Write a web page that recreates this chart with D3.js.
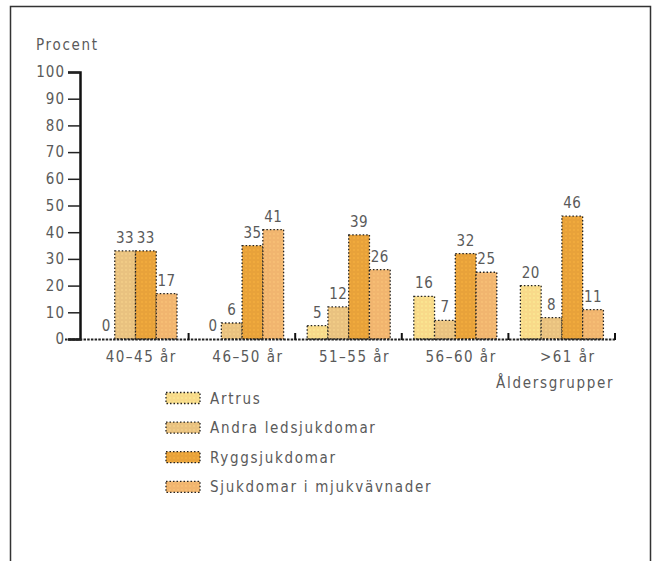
<!DOCTYPE html>
<html><head><meta charset="utf-8">
<script src="https://cdn.jsdelivr.net/npm/d3@7"></script>
<style>
body{margin:0;background:#fff;}
text{font-family:"DejaVu Sans Condensed","DejaVu Sans",sans-serif;font-stretch:condensed;fill:#5a5a5a;}
</style></head><body>
<svg id="c" width="653" height="561"></svg>
<script>
const groups = ["40–45 år","46–50 år","51–55 år","56–60 år",">61 år"];
const seriesNames = ["Artrus","Andra ledsjukdomar","Ryggsjukdomar","Sjukdomar i mjukvävnader"];
const artrus = [0,0,5,16,20];
const andra = [33,6,12,7,8];
const rygg = [33,35,39,32,46];
const sjuk = [17,41,26,25,11];
const yTicks = [0,10,20,30,40,50,60,70,80,90,100];
const colors = ["#f8da8a","#e9c280","#e8a23a","#f1b56f"];

const seriesValues = [artrus, andra, rygg, sjuk];
const svg = d3.select("#c");
const FF = "'DejaVu Sans Condensed','DejaVu Sans',sans-serif";

// frame (no bottom edge)
svg.append("path").attr("d","M10.5,561 V6.5 H650.5 V561")
  .attr("fill","none").attr("stroke","#333").attr("stroke-width",1.5);

const y = d3.scaleLinear().domain([0,100]).range([339,72]);
const x0 = d3.scaleBand().domain(groups).range([82,615]).padding(0);
const x1 = d3.scaleBand().domain(seriesNames).range([12,95]).padding(0);

// patterns
const defs = svg.append("defs");
colors.forEach((c,i)=>{
  const p = defs.append("pattern").attr("id","p"+i).attr("width",4).attr("height",4)
    .attr("patternUnits","userSpaceOnUse");
  p.append("rect").attr("width",4).attr("height",4).attr("fill",c);
  p.append("circle").attr("cx",2).attr("cy",2).attr("r",0.7)
    .attr("fill",d3.color(c).brighter(0.35));
});

// y axis
const yAxis = d3.axisLeft(y).tickValues(yTicks).tickSize(12).tickPadding(3);
const ya = svg.append("g").attr("transform","translate(80,0)").call(yAxis);
ya.select(".domain").attr("stroke","#111").attr("stroke-width",2.5);
ya.selectAll(".tick line").attr("stroke","#222").attr("stroke-width",1.5);
ya.selectAll(".tick text").attr("font-size",15).attr("fill","#666")
  .style("letter-spacing","1px").style("font-stretch","condensed")
  .attr("font-family",FF);

svg.append("text").attr("x",36).attr("y",50).attr("font-size",15)
  .style("letter-spacing","1.7px").text("Procent");

// bars
const data = [];
groups.forEach((g,gi)=>seriesNames.forEach((s,si)=>data.push({g,s,si,v:seriesValues[si][gi]})));
const bars = svg.append("g");
bars.selectAll("rect").data(data).join("rect")
  .attr("x",d=>x0(d.g)+x1(d.s))
  .attr("y",d=>y(d.v))
  .attr("width",x1.bandwidth())
  .attr("height",d=>y(0)-y(d.v))
  .attr("fill",d=>"url(#p"+d.si+")")
  .attr("stroke","#222").attr("stroke-width",1.3)
  .attr("stroke-dasharray","1.5 2");
bars.selectAll("text").data(data).join("text")
  .attr("x",d=>x0(d.g)+x1(d.s)+x1.bandwidth()/2+ (d.v===0?2:0))
  .attr("y",d=>y(d.v)-8)
  .attr("text-anchor","middle").attr("font-size",15).attr("fill","#6a6a6a")
  .style("letter-spacing","0.5px")
  .text(d=>d.v);

// baseline
svg.append("line").attr("x1",65).attr("x2",615).attr("y1",339.5).attr("y2",339.5)
  .attr("stroke","#222").attr("stroke-width",2).attr("stroke-dasharray","2.5 1.2");
// group boundary ticks
svg.append("g").selectAll("line").data(groups.slice(1).concat(["end"])).join("line")
  .attr("x1",d=>d==="end"?615:x0(d)).attr("x2",d=>d==="end"?615:x0(d))
  .attr("y1",340).attr("y2",333).attr("stroke","#111").attr("stroke-width",2);

// x labels
svg.append("g").selectAll("text").data(groups).join("text")
  .attr("x",d=>x0(d)+x0.bandwidth()/2+6).attr("y",362)
  .attr("text-anchor","middle").attr("font-size",15)
  .style("letter-spacing","1.5px").text(d=>d);
svg.append("text").attr("x",496).attr("y",388).attr("font-size",15)
  .style("letter-spacing","1.7px").text("Åldersgrupper");

// legend
const lg = svg.append("g");
seriesNames.forEach((s,i)=>{
  const yy = 398 + i*29.6;
  lg.append("rect").attr("x",166).attr("y",yy-5.5).attr("width",34).attr("height",11)
    .attr("fill","url(#p"+i+")").attr("stroke","#222").attr("stroke-width",1.3)
    .attr("stroke-dasharray","1.5 2");
  lg.append("text").attr("x",210).attr("y",yy+5.5).attr("font-size",15)
    .style("letter-spacing","1.7px").text(s);
});
</script></body></html>
